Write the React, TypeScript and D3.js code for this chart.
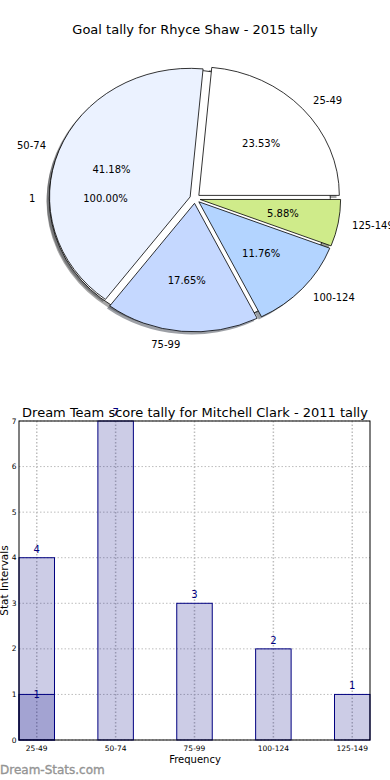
import { useEffect, useRef } from 'react';
import * as d3 from 'd3';

const categories = ['25-49', '50-74', '75-99', '100-124', '125-149'];
const goalTally = [4, 7, 3, 2, 1];
const pieColors = ['#ffffff', '#ebf2ff', '#c5d8ff', '#b3d4ff', '#cfeb8a'];
const totalLabels = ['1'];
const totalValues = [1];
const scoreTally = [4, 7, 3, 2, 1];
const overlayCategories = ['25-49'];
const overlayTally = [1];
const yTicks = [0, 1, 2, 3, 4, 5, 6, 7];

const FONT = 'DejaVu Sans, sans-serif';

export default function App() {
    const svgRef = useRef<SVGSVGElement>(null);

    useEffect(() => {
        if (!svgRef.current) return;
        const root = d3.select(svgRef.current);
        root.selectAll('*').remove();

        // ---------- pie ----------
        const cx = 195, cy = 198.6, rx = 140.5, ry = 128.5;
        const explode = 0.037;
        const shadowOff = 0.02;

        root.append('text')
            .attr('x', 195).attr('y', 34)
            .attr('text-anchor', 'middle')
            .style('font-family', FONT).style('font-size', '13px')
            .text('Goal tally for Rhyce Shaw - 2015 tally');

        const pie = d3.pie<number>().sort(null)
            .startAngle(Math.PI / 2)
            .endAngle(Math.PI / 2 - 2 * Math.PI);
        const arc = d3.arc<d3.PieArcDatum<number>>().innerRadius(0).outerRadius(1);

        const slices = pie(goalTally);
        const totalSlices = pie(totalValues);
        const sum = d3.sum(goalTally);
        const mid = (d: d3.PieArcDatum<number>) => (d.startAngle + d.endAngle) / 2;
        const pos = (d: d3.PieArcDatum<number>, r: number) => {
            const a = mid(d);
            return [cx + (explode + r) * rx * Math.sin(a), cy - (explode + r) * ry * Math.cos(a)];
        };

        const pieG = root.append('g');
        const shadowColor = (c: string) => {
            const k = d3.rgb(c);
            return d3.rgb(k.r * 0.3, k.g * 0.3, k.b * 0.3).toString();
        };

        const all = [
            ...totalSlices.map(d => ({ d, color: '#ffffff', full: true })),
            ...slices.map((d, i) => ({ d, color: pieColors[i], full: false }))
        ];
        const fullEllipse = d3.arc()({ innerRadius: 0, outerRadius: 1, startAngle: 0, endAngle: 2 * Math.PI });

        // shadows
        pieG.selectAll('path.shadow')
            .data(all)
            .enter()
            .append('path')
            .attr('class', 'shadow')
            .attr('d', e => e.full ? fullEllipse : arc(e.d))
            .attr('transform', e => {
                const a = mid(e.d);
                const ox = cx + (explode * Math.sin(a) - shadowOff) * rx;
                const oy = cy + (-explode * Math.cos(a) + shadowOff) * ry;
                return `translate(${ox},${oy}) scale(${rx},${ry})`;
            })
            .attr('fill', e => shadowColor(e.color))
            .attr('fill-opacity', 0.5);

        // wedges
        pieG.selectAll('path.wedge')
            .data(all)
            .enter()
            .append('path')
            .attr('class', 'wedge')
            .attr('d', e => e.full ? fullEllipse : arc(e.d))
            .attr('transform', e => {
                const a = mid(e.d);
                const ox = cx + explode * Math.sin(a) * rx;
                const oy = cy - explode * Math.cos(a) * ry;
                return `translate(${ox},${oy}) scale(${rx},${ry})`;
            })
            .attr('fill', e => e.color)
            .attr('stroke', '#000')
            .attr('stroke-width', 0.8)
            .attr('vector-effect', 'non-scaling-stroke');

        const labelData = [
            ...slices.map((d, i) => ({ d, label: categories[i], pct: d.value / sum })),
            ...totalSlices.map((d, i) => ({ d, label: totalLabels[i], pct: 1 }))
        ];

        pieG.selectAll('text.label')
            .data(labelData)
            .enter()
            .append('text')
            .attr('class', 'label')
            .attr('x', e => pos(e.d, 1.1)[0])
            .attr('y', e => pos(e.d, 1.1)[1])
            .attr('dy', '0.35em')
            .attr('text-anchor', e => pos(e.d, 1.1)[0] > cx ? 'start' : 'end')
            .style('font-family', FONT).style('font-size', '10px')
            .text(e => e.label);

        pieG.selectAll('text.pct')
            .data(labelData)
            .enter()
            .append('text')
            .attr('class', 'pct')
            .attr('x', e => pos(e.d, 0.6)[0])
            .attr('y', e => pos(e.d, 0.6)[1])
            .attr('dy', '0.35em')
            .attr('text-anchor', 'middle')
            .style('font-family', FONT).style('font-size', '10px')
            .text(e => (e.pct * 100).toFixed(2) + '%');

        // ---------- bars ----------
        const left = 19, right = 370, top = 421, bottom = 740;
        const barWidth = 0.45;
        const x = d3.scaleLinear().domain([-barWidth / 2, categories.length - 1 + barWidth / 2]).range([left, right]);
        const y = d3.scaleLinear().domain([0, 7]).range([bottom, top]);
        const xi = (c: string) => x(categories.indexOf(c));
        const bw = x(barWidth) - x(0);

        const barG = root.append('g');

        // grid
        barG.selectAll('line.hgrid')
            .data(yTicks)
            .enter()
            .append('line')
            .attr('x1', left).attr('x2', right)
            .attr('y1', d => y(d)).attr('y2', d => y(d))
            .attr('stroke', '#bdbdbd')
            .attr('stroke-width', 1)
            .attr('stroke-dasharray', '1.5,2');

        barG.selectAll('line.vgrid')
            .data(categories)
            .enter()
            .append('line')
            .attr('x1', d => xi(d)).attr('x2', d => xi(d))
            .attr('y1', top).attr('y2', bottom)
            .attr('stroke', '#bdbdbd')
            .attr('stroke-width', 1.5)
            .attr('stroke-dasharray', '1.5,2');

        barG.selectAll('rect.bar')
            .data(scoreTally)
            .enter()
            .append('rect')
            .attr('x', (d, i) => xi(categories[i]) - bw / 2)
            .attr('y', d => y(d))
            .attr('width', bw)
            .attr('height', d => y(0) - y(d))
            .attr('fill', 'navy')
            .attr('fill-opacity', 0.2)
            .attr('stroke', 'navy')
            .attr('stroke-width', 1);

        barG.selectAll('rect.overlay')
            .data(overlayTally)
            .enter()
            .append('rect')
            .attr('x', (d, i) => xi(overlayCategories[i]) - bw / 2)
            .attr('y', d => y(d))
            .attr('width', bw)
            .attr('height', d => y(0) - y(d))
            .attr('fill', 'navy')
            .attr('fill-opacity', 0.2)
            .attr('stroke', 'navy')
            .attr('stroke-width', 1);

        // frame
        barG.append('rect')
            .attr('x', left).attr('y', top)
            .attr('width', right - left).attr('height', bottom - top)
            .attr('fill', 'none')
            .attr('stroke', '#000')
            .attr('stroke-width', 1);

        root.append('text')
            .attr('x', 195).attr('y', 417)
            .attr('text-anchor', 'middle')
            .style('font-family', FONT).style('font-size', '13px')
            .text('Dream Team score tally for Mitchell Clark - 2011 tally');

        barG.selectAll('text.val')
            .data(scoreTally)
            .enter()
            .append('text')
            .attr('x', (d, i) => xi(categories[i]))
            .attr('y', d => y(d) - 5)
            .attr('text-anchor', 'middle')
            .attr('fill', 'navy')
            .style('font-family', FONT).style('font-size', '10px')
            .text(d => d);

        barG.selectAll('text.oval')
            .data(overlayTally)
            .enter()
            .append('text')
            .attr('x', (d, i) => xi(overlayCategories[i]))
            .attr('y', d => y(d) + 4)
            .attr('text-anchor', 'middle')
            .attr('fill', 'navy')
            .style('font-family', FONT).style('font-size', '10px')
            .text(d => d);

        barG.selectAll('text.ytick')
            .data(yTicks)
            .enter()
            .append('text')
            .attr('x', 16.5)
            .attr('y', d => y(d))
            .attr('dy', '0.35em')
            .attr('text-anchor', 'end')
            .style('font-family', FONT).style('font-size', '7.5px')
            .text(d => d);

        barG.selectAll('text.xtick')
            .data(categories)
            .enter()
            .append('text')
            .attr('x', d => xi(d))
            .attr('y', 751)
            .attr('text-anchor', 'middle')
            .style('font-family', FONT).style('font-size', '7.5px')
            .text(d => d);

        root.append('text')
            .attr('x', 195).attr('y', 763)
            .attr('text-anchor', 'middle')
            .style('font-family', FONT).style('font-size', '10px')
            .text('Frequency');

        root.append('text')
            .attr('transform', `translate(8,${(top + bottom) / 2}) rotate(-90)`)
            .attr('text-anchor', 'middle')
            .style('font-family', FONT).style('font-size', '10.5px')
            .text('Stat Intervals');

        // watermark
        root.append('text')
            .attr('x', 0).attr('y', 774)
            .attr('fill', '#949494')
            .attr('stroke', '#949494')
            .attr('stroke-width', 0.35)
            .style('font-family', FONT).style('font-size', '12px')
            .text('Dream-Stats.com');
    }, []);

    return (
        <svg
            ref={svgRef}
            width={390}
            height={780}
            style={{ position: 'absolute', left: 0, top: 0, background: '#fff' }}
        />
    );
}
